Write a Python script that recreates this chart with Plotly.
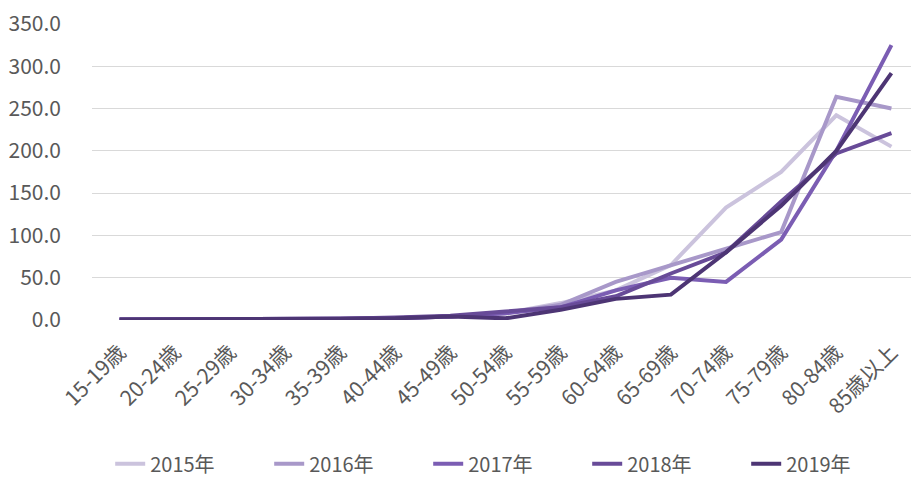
import plotly.graph_objects as go

categories = ["15-19歳", "20-24歳", "25-29歳", "30-34歳", "35-39歳", "40-44歳", "45-49歳",
              "50-54歳", "55-59歳", "60-64歳", "65-69歳", "70-74歳", "75-79歳", "80-84歳", "85歳以上"]

y2015 = [0.5, 0.5, 0.5, 1.0, 1.5, 2.0, 4.0, 8.0, 20.0, 35.0, 65.0, 133.0, 175.0, 242.0, 205.0]
y2016 = [0.5, 0.5, 0.5, 1.0, 1.5, 2.0, 4.0, 8.0, 18.0, 45.0, 65.0, 85.0, 104.0, 264.0, 250.0]
y2017 = [0.5, 0.5, 0.5, 1.0, 1.5, 2.0, 4.0, 8.0, 15.0, 35.0, 50.0, 45.0, 95.0, 200.0, 325.0]
y2018 = [0.5, 0.5, 0.5, 1.0, 1.5, 3.0, 5.0, 10.0, 15.0, 28.0, 55.0, 80.0, 140.0, 197.0, 221.0]
y2019 = [0.5, 0.5, 0.5, 1.0, 1.5, 2.0, 4.0, 2.0, 12.0, 25.0, 30.0, 80.0, 135.0, 200.0, 292.0]

series = [
    ("2015年", y2015, "#cbc3dd"),
    ("2016年", y2016, "#a898c9"),
    ("2017年", y2017, "#7b5db3"),
    ("2018年", y2018, "#684b98"),
    ("2019年", y2019, "#4d3574"),
]

font_family = "Noto Sans CJK JP, Noto Sans, sans-serif"

fig = go.Figure()
for name, vals, color in series:
    fig.add_trace(go.Scatter(x=categories, y=vals, name=name, mode="lines",
                             line=dict(color=color, width=4)))

fig.update_layout(
    width=911, height=469,
    margin=dict(l=84, r=0, t=16, b=157, autoexpand=False),
    paper_bgcolor="white", plot_bgcolor="white",
    font=dict(family=font_family, size=20, color="#595959"),
    showlegend=True,
    legend=dict(orientation="h", x=0.022, xanchor="left", y=-0.486, yanchor="middle",
                entrywidth=114, entrywidthmode="pixels",
                font=dict(size=20, color="#595959")),
    xaxis=dict(type="category", range=[-0.5, 14.5], tickangle=-45, showgrid=False,
               showline=False, ticks="", ticklabelstandoff=15, ticklabeloverflow="allow",
               tickfont=dict(size=21, color="#595959")),
    yaxis=dict(range=[0, 350], dtick=50, tickformat=".1f", showgrid=True,
               gridcolor="#d9d9d9", gridwidth=1, zeroline=False, showline=False,
               ticks="", ticklabelstandoff=30, ticklabeloverflow="allow",
               tickfont=dict(size=21, color="#595959")),
)

fig.write_html("out.html")
